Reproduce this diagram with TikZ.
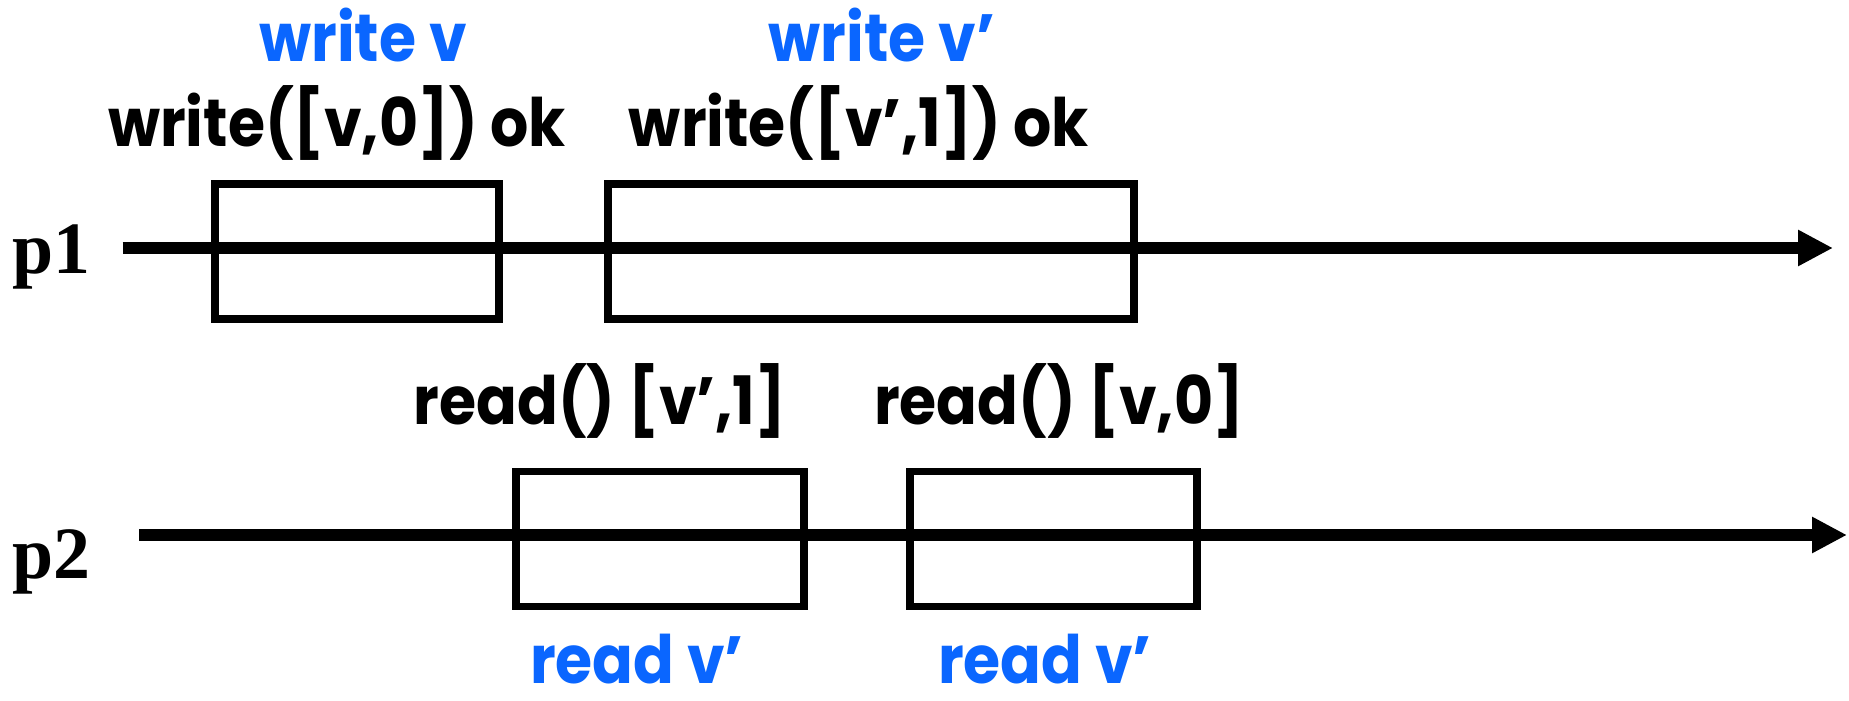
\documentclass[tikz,border=0pt]{standalone}
\usepackage{fontspec}
\setmainfont{Poppins}[FakeStretch=0.9]
\newfontfamily\procfont{Liberation Serif}
\usetikzlibrary{arrows.meta}
\definecolor{opblue}{RGB}{10,102,255}
\tikzset{
	op/.style={draw,line width=2.2pt,minimum height=1.35cm,inner sep=0pt},
	call/.style={anchor=base,inner sep=0pt,font=\bfseries\fontsize{19}{22}\selectfont},
	note/.style={call,text=opblue},
	proc/.style={anchor=base,inner sep=0pt,font=\procfont\bfseries\fontsize{21}{24}\selectfont},
	timeline/.style={->,line width=3.4pt}
}
\begin{document}
\begin{tikzpicture}[>={Triangle[length=3.5mm,width=3.4mm]}]
	\useasboundingbox (0,0) rectangle (18.49,7.01);
	% process p1
	\node[proc] (p1) at (0.51,4.27) {p1};
	\coordinate (s1) at (1.225,4.53);
	\coordinate (e1) at (18.33,4.53);
	\draw[timeline] (s1)--(e1);
	\node[op,minimum width=2.84cm] (w1) at (3.57,4.495) {};
	\node[op,minimum width=5.26cm] (w2) at (8.71,4.495) {};
	\node[call] (wc1) at (3.37,5.54) {write([v,0]) ok};
	\node[call] (wc2) at (8.59,5.54) {write([v',1]) ok};
	\node[note] (wv1) at (3.63,6.39) {write v};
	\node[note] (wv2) at (8.82,6.39) {write v'};
	% process p2
	\node[proc] (p2) at (0.51,1.22) {p2};
	\coordinate (s2) at (1.39,1.66);
	\coordinate (e2) at (18.47,1.66);
	\draw[timeline] (s2)--(e2);
	\node[op,minimum width=2.88cm] (r1) at (6.60,1.62) {};
	\node[op,minimum width=2.87cm] (r2) at (10.535,1.62) {};
	\node[call] (rc1) at (6.00,2.76) {read() [v',1]};
	\node[call] (rc2) at (10.59,2.76) {read() [v,0]};
	\node[note] (rv1) at (6.37,0.17) {read v'};
	\node[note] (rv2) at (10.45,0.17) {read v'};
\end{tikzpicture}
\end{document}
